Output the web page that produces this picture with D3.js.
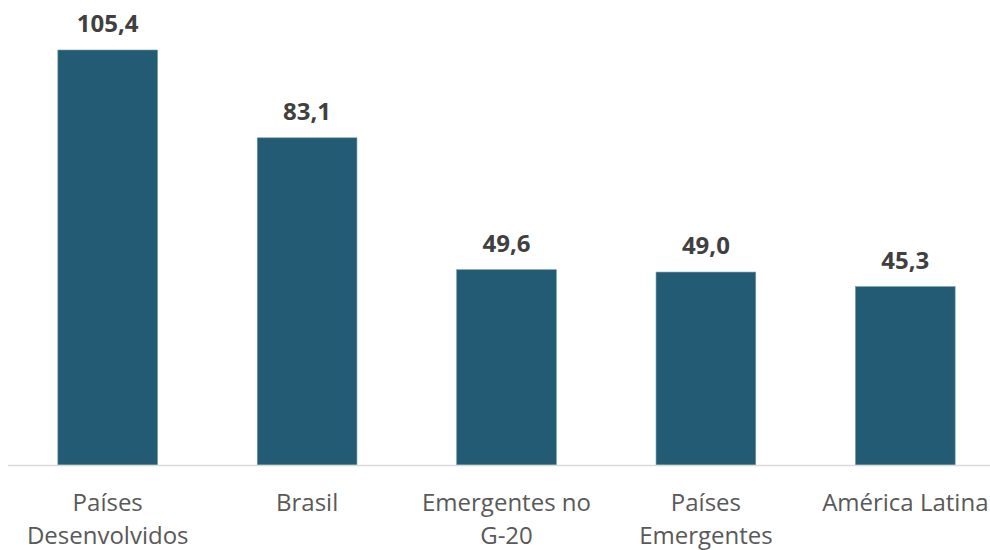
<!DOCTYPE html>
<html>
<head>
<meta charset="utf-8">
<script src="https://cdn.jsdelivr.net/npm/d3@7"></script>
<style>
  html, body { margin: 0; padding: 0; background: #fff; }
  svg { display: block; }
</style>
</head>
<body>
<svg id="chart" width="990" height="550"></svg>
<script>
// Categories and values
const categories = ["Países Desenvolvidos", "Brasil", "Emergentes no G-20", "Países Emergentes", "América Latina"];
const values = [105.4, 83.1, 49.6, 49.0, 45.3];
// How each category label wraps onto lines
const tickLines = [["Países", "Desenvolvidos"], ["Brasil"], ["Emergentes no", "G-20"], ["Países", "Emergentes"], ["América Latina"]];

const svg = d3.select("#chart");
const baseY = 465;

const x = d3.scaleBand()
  .domain(categories)
  .range([8, 1005])
  .paddingInner(0.5)
  .paddingOuter(0.25);

const y = d3.scaleLinear()
  .domain([0, 105.4])
  .range([baseY, 50]);

const fmt = v => d3.format(".1f")(v).replace(".", ",");

// Bars
svg.append("g")
  .selectAll("rect")
  .data(values)
  .join("rect")
  .attr("x", (d, i) => x(categories[i]))
  .attr("y", d => y(d))
  .attr("width", x.bandwidth())
  .attr("height", d => y(0) - y(d))
  .attr("fill", "#245B74")
  .attr("stroke", "#6f98ab")
  .attr("stroke-width", 0.6);

// Value labels
svg.append("g")
  .selectAll("text")
  .data(values)
  .join("text")
  .attr("x", (d, i) => x(categories[i]) + x.bandwidth() / 2)
  .attr("y", d => y(d) - 18)
  .attr("text-anchor", "middle")
  .attr("font-family", "'Open Sans', sans-serif")
  .attr("font-weight", "bold")
  .attr("font-size", 24)
  .attr("fill", "#404040")
  .text(d => fmt(d));

// Category axis
const axis = svg.append("g")
  .attr("transform", `translate(0,${baseY})`)
  .call(d3.axisBottom(x).tickSize(0).tickPadding(0).tickFormat(""));

axis.select(".domain")
  .attr("d", "M8,0.5H990")
  .attr("stroke", "#d9d9d9")
  .attr("stroke-width", 1.5);

axis.selectAll(".tick text").remove();
axis.selectAll(".tick")
  .append("text")
  .attr("text-anchor", "middle")
  .attr("font-family", "'Open Sans', sans-serif")
  .attr("font-size", 24)
  .attr("fill", "#595959")
  .each(function(d, i) {
    const t = d3.select(this);
    tickLines[i].forEach((line, k) => {
      t.append("tspan")
        .attr("x", 0)
        .attr("y", 46 + k * 33)
        .text(line);
    });
  });
</script>
</body>
</html>
